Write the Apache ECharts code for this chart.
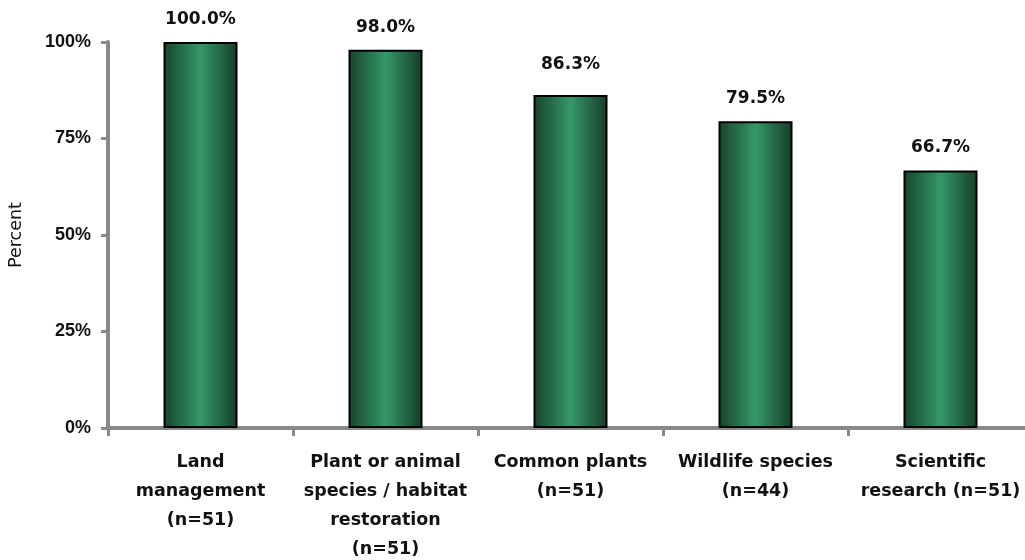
<!DOCTYPE html>
<html><head><meta charset="utf-8">
<script src="https://cdn.jsdelivr.net/npm/echarts@6/dist/echarts.min.js"></script>
<style>html,body{margin:0;padding:0;background:#fff}#c{width:1025px;height:560px}</style>
</head><body><div id="c"></div>
<script>
var categories = ["Land\nmanagement\n(n=51)", "Plant or animal\nspecies / habitat\nrestoration\n(n=51)", "Common plants\n(n=51)", "Wildlife species\n(n=44)", "Scientific\nresearch (n=51)"];
var values = [100.0, 98.0, 86.3, 79.5, 66.7];
var yTicks = [0, 25, 50, 75, 100];

var chart = echarts.init(document.getElementById('c'), null, {renderer: 'canvas'});
var font = 'DejaVu Sans';
var seriesData = values.map(function(v, i){
  return i === 2 ? {value: v, label: {distance: 22}} : v;
});
chart.setOption({
  animation: false,
  grid: {left: 108, top: 42, width: 925, height: 386, containLabel: false, outerBoundsMode: 'none'},
  xAxis: {
    type: 'category', data: categories,
    axisLine: {lineStyle: {color: '#898989', width: 4}},
    axisTick: {show: true, length: 8, lineStyle: {color: '#898989', width: 3}},
    axisLabel: {interval: 0, margin: 20, fontFamily: font, fontWeight: 'bold', fontSize: 17.5, color: '#111', lineHeight: 29}
  },
  yAxis: {
    type: 'value', min: 0, max: 100, interval: 25,
    name: 'Percent', nameLocation: 'middle', nameGap: 83, nameRotate: 90,
    nameTextStyle: {fontFamily: font, fontSize: 17.5, color: '#111'},
    axisLine: {show: true, lineStyle: {color: '#898989', width: 4}},
    axisTick: {show: true, length: 7, lineStyle: {color: '#898989', width: 3}},
    splitLine: {show: false},
    axisLabel: {margin: 17, fontFamily: 'Liberation Sans', fontWeight: 'bold', fontSize: 18, color: '#111',
      formatter: function(v){ return yTicks.indexOf(v) >= 0 ? v + '%' : ''; }}
  },
  series: [{
    type: 'bar', data: seriesData, barWidth: 74,
    itemStyle: {
      borderColor: '#000', borderWidth: 2,
      color: new echarts.graphic.LinearGradient(0, 0, 1, 0, [
        {offset: 0, color: '#17432b'},
        {offset: 0.5, color: '#359868'},
        {offset: 1, color: '#153d28'}
      ])
    },
    label: {show: true, position: 'top', distance: 14, fontFamily: font, fontWeight: 'bold', fontSize: 17, color: '#111',
      formatter: function(p){ return p.value.toFixed(1) + '%'; }}
  }]
});
</script></body></html>
